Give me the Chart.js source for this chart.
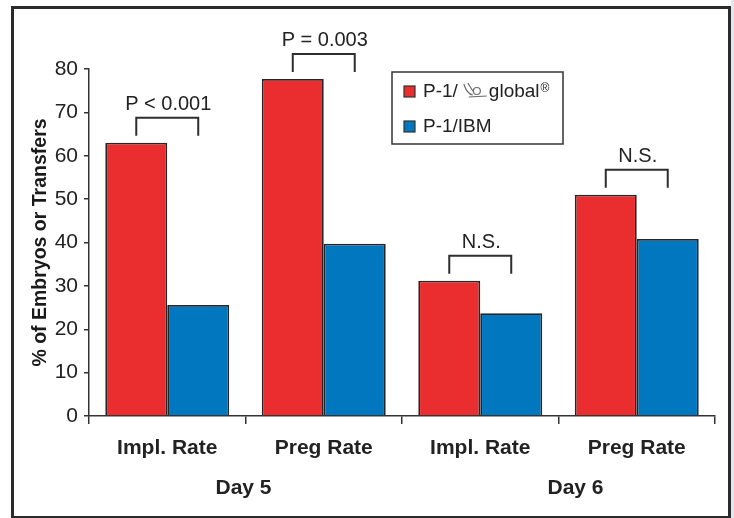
<!DOCTYPE html>
<html>
<head>
<meta charset="utf-8">
<script src="https://cdn.jsdelivr.net/npm/chart.js@4.4.1/dist/chart.umd.min.js"></script>
<style>
  body { margin: 0; background: #fff; }
  #wrap { position: relative; width: 734px; height: 518px; overflow: hidden; }
  #myChart { position: absolute; left: 0; top: 0; }
  #frame { position: absolute; left: 11px; top: 6px; width: 720px; height: 512px; box-sizing: border-box;
           border: 3px solid #2b2b2b; border-bottom-width: 2px; pointer-events: none; }
  #edge { position: absolute; left: 731px; top: 0; width: 3px; height: 518px; background: #e4e6f0; }
</style>
</head>
<body>
<div id="wrap">
  <canvas id="myChart" width="734" height="518"></canvas>
  <div id="frame"></div>
  <div id="edge"></div>
</div>
<script>
// data
const categories = ["Impl. Rate", "Preg Rate", "Impl. Rate", "Preg Rate"];
const days = ["Day 5", "Day 6"];
const seriesNames = ["P-1/ global®", "P-1/IBM"];
const globalVals = [63, 77.7, 31.2, 51];
const ibmVals = [25.6, 39.7, 23.7, 40.8];
const pLabels = ["P < 0.001", "P = 0.003", "N.S.", "N.S."];
const yMin = 0, yMax = 80, yStep = 10;

const FONT = "'Liberation Sans', Arial, sans-serif";
Chart.defaults.font.family = FONT;
Chart.defaults.color = "#222";

function drawLogo(ctx, x, b) {
    // small stylised figure between "P-1/" and "global"
    ctx.save();
    ctx.strokeStyle = "#6a6a6a";
    ctx.lineWidth = 1.2;
    ctx.beginPath();
    ctx.moveTo(x, b - 13);
    ctx.quadraticCurveTo(x + 3, b - 3, x + 9, b - 2);
    ctx.moveTo(x + 4, b - 14);
    ctx.lineTo(x + 9, b - 6);
    ctx.stroke();
    ctx.beginPath();
    ctx.arc(x + 13, b - 6, 3.5, 0, Math.PI * 2);
    ctx.stroke();
    ctx.beginPath();
    ctx.moveTo(x + 5, b);
    ctx.lineTo(x + 23, b - 1);
    ctx.stroke();
    ctx.restore();
}

const extras = {
    id: "extras",
    afterDatasetsDraw(chart) {
        const ctx = chart.ctx;
        const red = chart.getDatasetMeta(0).data;
        const blue = chart.getDatasetMeta(1).data;
        ctx.save();

        // significance brackets
        ctx.strokeStyle = "#2e2e2e";
        ctx.lineWidth = 2;
        ctx.fillStyle = "#222";
        ctx.font = "20px " + FONT;
        ctx.textAlign = "center";
        ctx.textBaseline = "alphabetic";
        for (let i = 0; i < pLabels.length; i++) {
            let x1 = red[i].x, x2 = blue[i].x;
            let bottom = red[i].y - 7, top = bottom - 18;
            ctx.beginPath();
            ctx.moveTo(x1, bottom);
            ctx.lineTo(x1, top);
            ctx.lineTo(x2, top);
            ctx.lineTo(x2, bottom);
            ctx.stroke();
            ctx.fillText(pLabels[i], (x1 + x2) / 2 + 1, top - 8);
        }

        // day group labels
        const xs = chart.scales.x;
        ctx.font = "bold 21px " + FONT;
        ctx.fillText(days[0], (xs.getPixelForValue(0) + xs.getPixelForValue(1)) / 2 - 2, 494);
        ctx.fillText(days[1], (xs.getPixelForValue(2) + xs.getPixelForValue(3)) / 2 + 17, 494);

        // legend
        const ca = chart.chartArea;
        const lx = ca.left + 303, ly = ca.top + 3, lw = 171, lh = 72;
        ctx.lineWidth = 1.5;
        ctx.strokeStyle = "#333";
        ctx.strokeRect(lx, ly, lw, lh);
        ctx.textAlign = "left";
        ctx.font = "19px " + FONT;
        chart.data.datasets.forEach((ds, i) => {
            const sy = ly + 14 + i * 35;
            ctx.fillStyle = ds.backgroundColor;
            ctx.fillRect(lx + 12, sy, 11, 11);
            ctx.lineWidth = 1.2;
            ctx.strokeStyle = "#333";
            ctx.strokeRect(lx + 12, sy, 11, 11);
            ctx.fillStyle = "#222";
            const b = sy + 11;
            let tx = lx + 31;
            const parts = ds.label.split(" ");
            if (parts.length > 1) {
                ctx.fillText(parts[0], tx, b);
                tx += ctx.measureText(parts[0]).width + 6;
                drawLogo(ctx, tx, b);
                tx += 25;
                let word = parts[1].replace("®", "");
                ctx.fillText(word, tx, b);
                tx += ctx.measureText(word).width + 1;
                ctx.font = "12px " + FONT;
                ctx.fillText("®", tx, b - 5);
                ctx.font = "19px " + FONT;
            } else {
                ctx.fillText(ds.label, tx, b);
            }
        });
        ctx.restore();
    }
};

let chart = new Chart("myChart", {
    type: "bar",
    data: {
        labels: categories,
        datasets: [{
            label: seriesNames[0],
            data: globalVals,
            backgroundColor: "#EA2D2F",
            borderColor: "#262626",
            borderWidth: 1.8,
            barPercentage: 1,
            categoryPercentage: 0.792
        }, {
            label: seriesNames[1],
            data: ibmVals,
            backgroundColor: "#0077BF",
            borderColor: "#262626",
            borderWidth: 1.8,
            barPercentage: 1,
            categoryPercentage: 0.792
        }]
    },
    options: {
        responsive: false,
        animation: false,
        layout: { padding: { top: 69, right: 19, left: 0, bottom: 0 } },
        plugins: {
            legend: { display: false },
            tooltip: { enabled: false }
        },
        scales: {
            x: {
                grid: { offset: true, drawOnChartArea: false, tickLength: 8, color: "#333", lineWidth: 1.5 },
                border: { color: "#333", width: 1.5 },
                ticks: { font: { size: 21, weight: "bold" }, color: "#222", padding: 12 },
                afterFit(scale) { scale.height = 102; }
            },
            y: {
                min: yMin,
                max: yMax,
                ticks: { stepSize: yStep, font: { size: 21 }, color: "#222", padding: 6 },
                grid: { drawOnChartArea: false, tickLength: 5, color: "#333", lineWidth: 1.5 },
                border: { color: "#333", width: 1.5 },
                title: {
                    display: true,
                    text: "% of Embryos or Transfers",
                    font: { size: 19.5, weight: "bold" },
                    color: "#1a1a1a",
                    padding: { top: 29, bottom: 0 }
                },
                afterFit(scale) { scale.width = 89; }
            }
        }
    },
    plugins: [extras]
});
</script>
</body>
</html>
